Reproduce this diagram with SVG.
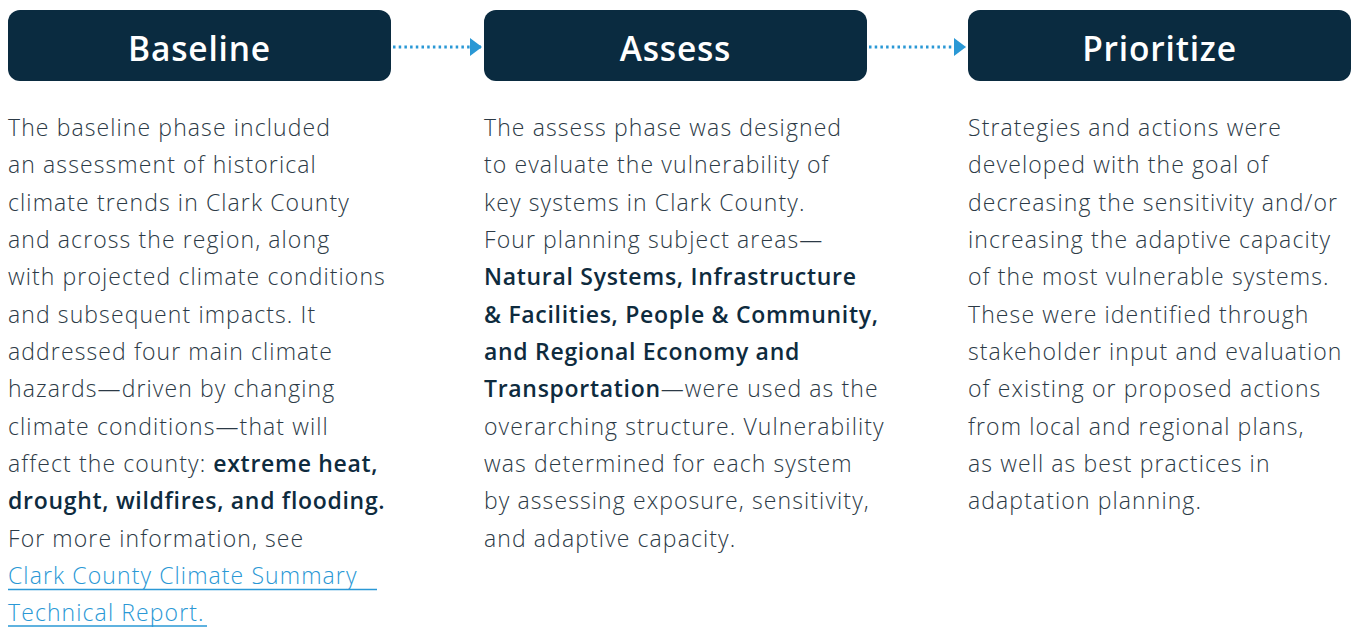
<svg xmlns="http://www.w3.org/2000/svg" width="1353" height="627" viewBox="0 0 1353 627">
<defs>
<marker id="arr" markerWidth="12" markerHeight="18" refX="12" refY="9" orient="auto" markerUnits="userSpaceOnUse">
<path d="M0,0 L12,9 L0,18 Z" fill="#2a98d5"/>
</marker>
<style>
.hdr{fill:#0a2b40}
.ht{font-family:"Open Sans",Lato,sans-serif;font-weight:600;font-size:33.5px;letter-spacing:0.8px;fill:#ffffff;text-anchor:middle}
.bt{font-family:"Open Sans",Lato,sans-serif;font-weight:300;font-size:23px;letter-spacing:1.1px;fill:#2c3a46}
.b{font-weight:600;letter-spacing:0.7px;fill:#0e2b3e}
.lk{fill:#2a98d5}
.conn{stroke:#2a98d5;stroke-width:3;stroke-dasharray:2.5 3.2;fill:none}
</style>
</defs>
<rect width="1353" height="627" fill="#ffffff"/>
<g id="connectors">
<line class="conn" x1="393" y1="47" x2="482" y2="47" marker-end="url(#arr)"/>
<line class="conn" x1="869" y1="47" x2="966" y2="47" marker-end="url(#arr)"/>
</g>
<g id="baseline">
<rect class="hdr" x="8" y="10" width="383" height="71" rx="12"/>
<text class="ht" x="199.5" y="61">Baseline</text>
<text class="bt" x="8">
<tspan x="8" y="136">The baseline phase included</tspan>
<tspan x="8" y="173">an assessment of historical</tspan>
<tspan x="8" y="211">climate trends in Clark County</tspan>
<tspan x="8" y="248">and across the region, along</tspan>
<tspan x="8" y="285">with projected climate conditions</tspan>
<tspan x="8" y="323">and subsequent impacts. It</tspan>
<tspan x="8" y="360">addressed four main climate</tspan>
<tspan x="8" y="397">hazards—driven by changing</tspan>
<tspan x="8" y="435">climate conditions—that will</tspan>
<tspan x="8" y="472">affect the county: <tspan class="b">extreme heat,</tspan></tspan>
<tspan x="8" y="509" class="b">drought, wildfires, and flooding.</tspan>
<tspan x="8" y="547">For more information, see</tspan>
<tspan x="8" y="584" class="lk">Clark County Climate Summary </tspan>
<tspan x="8" y="621" class="lk">Technical Report.</tspan>
</text>
<line x1="8" y1="589.5" x2="377" y2="589.5" stroke="#2a98d5" stroke-width="1.5"/>
<line x1="8" y1="626" x2="207" y2="626" stroke="#2a98d5" stroke-width="1.5"/>
</g>
<g id="assess">
<rect class="hdr" x="484" y="10" width="383" height="71" rx="12"/>
<text class="ht" x="675.5" y="61">Assess</text>
<text class="bt">
<tspan x="484" y="136">The assess phase was designed</tspan>
<tspan x="484" y="173">to evaluate the vulnerability of</tspan>
<tspan x="484" y="211">key systems in Clark County.</tspan>
<tspan x="484" y="248">Four planning subject areas—</tspan>
<tspan x="484" y="285" class="b">Natural Systems, Infrastructure</tspan>
<tspan x="484" y="323" class="b">&amp; Facilities, People &amp; Community,</tspan>
<tspan x="484" y="360" class="b">and Regional Economy and</tspan>
<tspan x="484" y="397"><tspan class="b">Transportation</tspan>—were used as the</tspan>
<tspan x="484" y="435">overarching structure. Vulnerability</tspan>
<tspan x="484" y="472">was determined for each system</tspan>
<tspan x="484" y="509">by assessing exposure, sensitivity,</tspan>
<tspan x="484" y="547">and adaptive capacity.</tspan>
</text>
</g>
<g id="prioritize">
<rect class="hdr" x="968" y="10" width="383" height="71" rx="12"/>
<text class="ht" x="1159.5" y="61">Prioritize</text>
<text class="bt">
<tspan x="968" y="136">Strategies and actions were</tspan>
<tspan x="968" y="173">developed with the goal of</tspan>
<tspan x="968" y="211">decreasing the sensitivity and/or</tspan>
<tspan x="968" y="248">increasing the adaptive capacity</tspan>
<tspan x="968" y="285">of the most vulnerable systems.</tspan>
<tspan x="968" y="323">These were identified through</tspan>
<tspan x="968" y="360">stakeholder input and evaluation</tspan>
<tspan x="968" y="397">of existing or proposed actions</tspan>
<tspan x="968" y="435">from local and regional plans,</tspan>
<tspan x="968" y="472">as well as best practices in</tspan>
<tspan x="968" y="509">adaptation planning.</tspan>
</text>
</g>
</svg>
